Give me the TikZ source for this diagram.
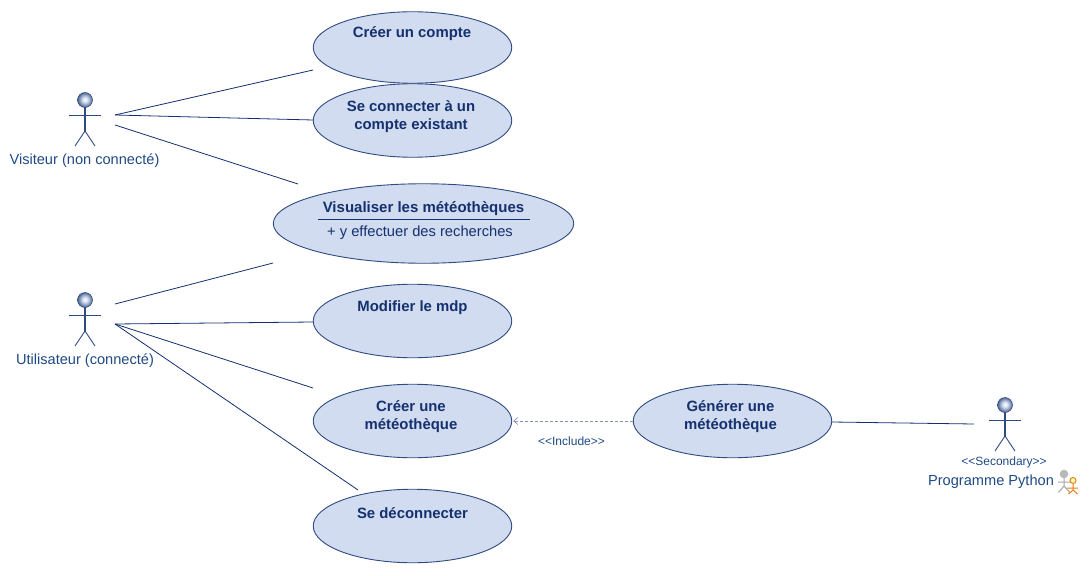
\documentclass[tikz,border=0pt]{standalone}
\usepackage{fontspec}
\setmainfont{Liberation Sans}
\usetikzlibrary{shapes.geometric,arrows.meta}
\definecolor{ucfill}{HTML}{D1DCF0}
\definecolor{ucline}{HTML}{2F4A80}
\definecolor{conn}{HTML}{14306E}
\definecolor{txt}{HTML}{14306E}
\definecolor{lab}{HTML}{1F4A85}
\pgfdeclareradialshading{headball}{\pgfpoint{0bp}{2bp}}{%
  color(0bp)=(white);color(9bp)=(ucfill);color(20bp)=(ucline!65!white);color(28bp)=(ucline);color(50bp)=(ucline)}
\tikzset{
  usecase/.style={ellipse,draw=ucline,fill=ucfill,line width=.9pt,inner sep=0pt,minimum width=198.5pt,minimum height=73.5pt},
  uctext/.style={font=\fontsize{14.9}{18}\selectfont\bfseries,text=txt,align=center,inner sep=0pt},
  actorlabel/.style={font=\fontsize{14.6}{17}\selectfont,text=lab,inner sep=0pt},
  smalllabel/.style={font=\fontsize{12}{14}\selectfont,text=lab,inner sep=0pt},
  assoc/.style={draw=conn,line width=0.8pt},
  limb/.style={draw=ucline,line width=0.9pt},
}
\newcommand{\actorfig}[3]{% x, y head centre, name
  \coordinate (#3) at (#1,#2);
  \draw[ucline,line width=1.4pt] (#1,#2+7) -- (#1,#2+32);
  \draw[limb] (#1-16,#2+15.5) -- (#1+16,#2+15.5);
  \draw[limb] (#1-10,#2+46) -- (#1,#2+31) -- (#1+10,#2+46);
  \shade[shading=headball,draw=ucline,line width=.5pt] (#1,#2) circle (7.5);
}
\begin{document}
\begin{tikzpicture}[x=1pt,y=-1pt]
\useasboundingbox (0,0) rectangle (1091,575);
% use cases
\node[usecase,minimum height=71.5pt] (c1) at (412.5,47.5) {};
\node[usecase] (c2) at (412.5,120.5) {};
\node[usecase,minimum width=300.5pt,minimum height=79.5pt] (c3) at (423.5,223.5) {};
\node[usecase] (c4) at (412.5,321) {};
\node[usecase] (c5) at (412.5,421) {};
\node[usecase] (c6) at (412.5,526) {};
\node[usecase] (c7) at (732.5,421) {};
% use case texts
\node[uctext] (t1) at (412,34) {Créer un compte};
\node[uctext] (t2) at (411,117) {Se connecter à un\\compte existant};
\node[uctext,font=\fontsize{15}{18}\selectfont\bfseries] (t3) at (423.5,208.5) {Visualiser les météothèques};
\draw[conn,line width=.8pt] (318,219.5) -- (530,219.5);
\node[font=\fontsize{14.7}{17}\selectfont,text=txt,inner sep=0pt] (t3b) at (420,233) {+ y effectuer des recherches};
\node[uctext] (t4) at (412.5,308) {Modifier le mdp};
\node[uctext] (t5) at (411,417) {Créer une\\météothèque};
\node[uctext] (t6) at (412.5,513.5) {Se déconnecter};
\node[uctext] (t7) at (730.5,417) {Générer une\\météothèque};
% actors
\actorfig{85}{100}{a1}
\actorfig{85}{300}{a2}
\actorfig{1005}{405}{a3}
\node[actorlabel] (l1) at (84.5,160.5) {Visiteur (non connecté)};
\node[actorlabel] (l2) at (85,361) {Utilisateur (connecté)};
\node[smalllabel] (l3s) at (1004,462) {<{}<Secondary>{}>};
\node[actorlabel] (l3) at (991,482) {Programme Python};
% secondary marker
\begin{scope}[line width=1pt]
  \draw[gray!70] (1064,476) -- (1064,487) (1058,482) -- (1071,482) (1058.5,492.5) -- (1064,486) -- (1070,492.5);
  \fill[gray!55] (1064,474) circle (4.3);
  \draw[orange!70!brown] (1073,484) -- (1073,490) (1067,488) -- (1078,488) (1068.5,494) -- (1073,490) -- (1077.5,494);
  \draw[orange!70!brown,fill=yellow!30] (1073,480.5) circle (3);
\end{scope}
% connector ends
\coordinate (p1a) at (115,115);
\coordinate (p1b) at (115,115);
\coordinate (p1c) at (115,125);
\coordinate (e1) at (313,70);
\coordinate (e2) at (313,120);
\coordinate (e3) at (298,184);
\coordinate (p2a) at (115,304);
\coordinate (p2b) at (115,324);
\coordinate (e4) at (273,263);
\coordinate (e5) at (313,322);
\coordinate (e6) at (313,388);
\coordinate (e7) at (358,490);
\coordinate (g7) at (832,422);
\coordinate (p3) at (974,424);
\draw[assoc] (p1a) -- (e1);
\draw[assoc] (p1b) -- (e2);
\draw[assoc] (p1c) -- (e3);
\draw[assoc] (p2a) -- (e4);
\draw[assoc] (p2b) -- (e5);
\draw[assoc] (p2b) -- (e6);
\draw[assoc] (p2b) -- (e7);
\draw[assoc] (g7) -- (p3);
\draw[draw=ucline!60!white,line width=.7pt,densely dashed,-{Straight Barb[length=4pt,width=7pt]}] (c7.west) -- ([xshift=1pt]c5.east);
\node[smalllabel] (inc) at (571.5,441) {<{}<Include>{}>};
\end{tikzpicture}
\end{document}
